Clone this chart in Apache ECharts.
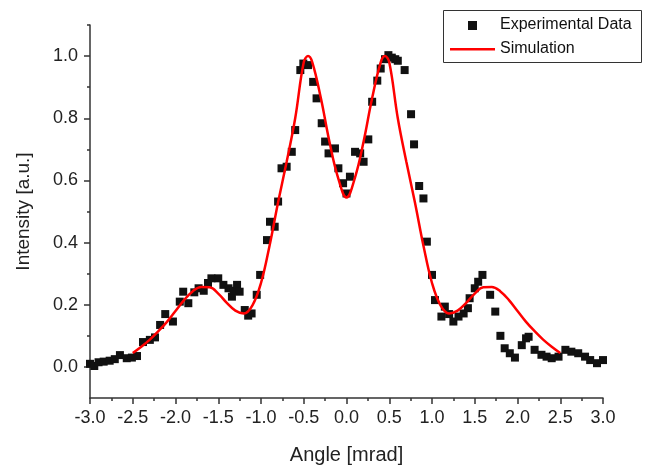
<!DOCTYPE html>
<html><head><meta charset="utf-8">
<script src="https://cdn.jsdelivr.net/npm/echarts@6/dist/echarts.min.js"></script>
<style>html,body{margin:0;padding:0;background:#fff}#c{width:659px;height:467px}</style>
</head><body><div id="c"></div>
<script>
const expX = [-3.00,-2.95,-2.90,-2.84,-2.77,-2.71,-2.65,-2.57,-2.51,-2.45,-2.38,-2.30,-2.24,-2.18,-2.12,-2.03,-1.95,-1.91,-1.85,-1.78,-1.73,-1.67,-1.62,-1.58,-1.50,-1.44,-1.38,-1.34,-1.32,-1.28,-1.25,-1.19,-1.15,-1.11,-1.05,-1.01,-0.93,-0.895,-0.84,-0.80,-0.76,-0.70,-0.64,-0.60,-0.54,-0.505,-0.45,-0.39,-0.35,-0.29,-0.25,-0.21,-0.135,-0.095,-0.04,0.00,0.04,0.10,0.16,0.20,0.255,0.30,0.36,0.40,0.45,0.49,0.53,0.57,0.60,0.68,0.755,0.79,0.85,0.90,0.94,1.00,1.035,1.11,1.15,1.20,1.25,1.31,1.37,1.42,1.44,1.50,1.54,1.59,1.68,1.74,1.80,1.85,1.91,1.97,2.05,2.10,2.13,2.20,2.28,2.34,2.40,2.48,2.56,2.63,2.71,2.79,2.85,2.93,3.00];
const expY = [0.010,0.003,0.015,0.017,0.020,0.025,0.038,0.028,0.030,0.035,0.080,0.087,0.095,0.135,0.170,0.146,0.210,0.242,0.205,0.240,0.253,0.245,0.270,0.285,0.285,0.264,0.253,0.226,0.245,0.264,0.242,0.183,0.165,0.172,0.232,0.296,0.408,0.467,0.451,0.532,0.639,0.644,0.692,0.762,0.955,0.976,0.971,0.917,0.864,0.784,0.725,0.687,0.703,0.639,0.591,0.558,0.612,0.692,0.687,0.660,0.732,0.853,0.921,0.960,0.990,1.003,0.995,0.990,0.985,0.955,0.813,0.716,0.582,0.542,0.403,0.296,0.215,0.162,0.194,0.170,0.146,0.162,0.172,0.189,0.221,0.253,0.274,0.296,0.232,0.178,0.100,0.060,0.044,0.030,0.070,0.092,0.097,0.055,0.039,0.033,0.028,0.033,0.055,0.049,0.044,0.033,0.022,0.012,0.022];
const simX = [-2.5,-2.4,-2.3,-2.2,-2.1,-2.0,-1.9,-1.8,-1.7,-1.6,-1.5,-1.4,-1.3,-1.2,-1.1,-1.0,-0.9,-0.8,-0.7,-0.6,-0.5,-0.45,-0.4,-0.3,-0.2,-0.1,0.0,0.1,0.2,0.3,0.4,0.45,0.5,0.6,0.7,0.8,0.9,1.0,1.1,1.2,1.3,1.4,1.5,1.6,1.7,1.8,1.9,2.0,2.1,2.2,2.3,2.4,2.5];
const simY = [0.045,0.065,0.088,0.115,0.145,0.180,0.215,0.243,0.257,0.256,0.236,0.206,0.181,0.172,0.198,0.270,0.390,0.530,0.660,0.800,0.980,1.000,0.980,0.865,0.725,0.610,0.545,0.610,0.725,0.865,0.980,1.000,0.980,0.800,0.660,0.530,0.390,0.270,0.198,0.172,0.181,0.206,0.236,0.256,0.257,0.243,0.215,0.180,0.145,0.115,0.088,0.065,0.045];
const yLabels = [0,0.2,0.4,0.6,0.8,1.0];
const yMinor = [0.1,0.3,0.5,0.7,0.9,1.1];
// major ticks 0..1.0 drawn on a helper axis shifted by +0.1 (same pixel scale)
const yMajorShifted = [0.1,0.3,0.5,0.7,0.9,1.1];

const font = 'Liberation Sans, Arial, sans-serif';
const chart = echarts.init(document.getElementById('c'), null, {renderer:'canvas'});
const axCol = '#333';
const tickAxis = (mn, mx, vals, len) => ({type:'value',min:mn,max:mx,position:'left',gridIndex:0,
    axisLine:{show:false,onZero:false},
    axisTick:{show:true,inside:false,length:len,customValues:vals.slice(),lineStyle:{color:axCol,width:1.5}},
    axisLabel:{show:false},splitLine:{show:false}});
chart.setOption({
  animation:false,
  backgroundColor:'#fff',
  grid:{left:90,right:56,top:25,bottom:69,outerBoundsMode:'none',containLabel:false},
  graphic:[{type:'rect',shape:{x:443.5,y:10.5,width:198,height:52},style:{fill:'#fff',stroke:'#333',lineWidth:1},z:50}],
  legend:{
    orient:'vertical',left:450,top:17,padding:0,itemGap:8,itemWidth:45,itemHeight:10,z:60,
    textStyle:{fontFamily:font,fontSize:16,color:'#111'},
    data:[{name:'Experimental Data',icon:'path://M0,0M45,10M18,1h9v9h-9z'},
          {name:'Simulation',icon:'path://M0,0M45,10M0,4h45v2.5h-45z'}]
  },
  xAxis:{type:'value',min:-3,max:3,interval:0.5,
    name:'Angle [mrad]',nameLocation:'middle',nameGap:47,
    nameTextStyle:{fontFamily:font,fontSize:20,color:'#222'},
    axisLine:{onZero:false,lineStyle:{color:axCol,width:1.5}},
    axisTick:{inside:false,length:6,lineStyle:{color:axCol,width:1.5}},
    minorTick:{show:true,splitNumber:2,length:3,lineStyle:{color:axCol,width:1.5}},
    axisLabel:{fontFamily:font,fontSize:18,color:'#222',margin:11,formatter:v=>v.toFixed(1)},
    splitLine:{show:false}},
  yAxis:[{type:'value',min:-0.1,max:1.1,
    name:'Intensity [a.u.]',nameLocation:'middle',nameGap:57,
    nameTextStyle:{fontFamily:font,fontSize:19,color:'#222'},
    axisLine:{onZero:false,lineStyle:{color:axCol,width:1.5}},
    axisTick:{show:false},
    axisLabel:{fontFamily:font,fontSize:18,color:'#222',margin:12,customValues:yLabels.slice(),formatter:v=>v.toFixed(1)},
    splitLine:{show:false}},
   tickAxis(-0.1,1.1,yMinor,3),
   tickAxis(0,1.2,yMajorShifted,3),
   tickAxis(0,1.2,yMajorShifted,6)],
  series:[
    {name:'Experimental Data',type:'scatter',symbol:'rect',symbolSize:8,
     itemStyle:{color:'#111',opacity:1},data:expX.map((x,i)=>[x,expY[i]]),z:2},
    {name:'Simulation',type:'line',smooth:0.4,showSymbol:false,symbol:'none',
     lineStyle:{color:'#ff0000',width:2.5},itemStyle:{color:'#ff0000'},
     data:simX.map((x,i)=>[x,simY[i]]),z:3}
  ]
});
</script></body></html>
